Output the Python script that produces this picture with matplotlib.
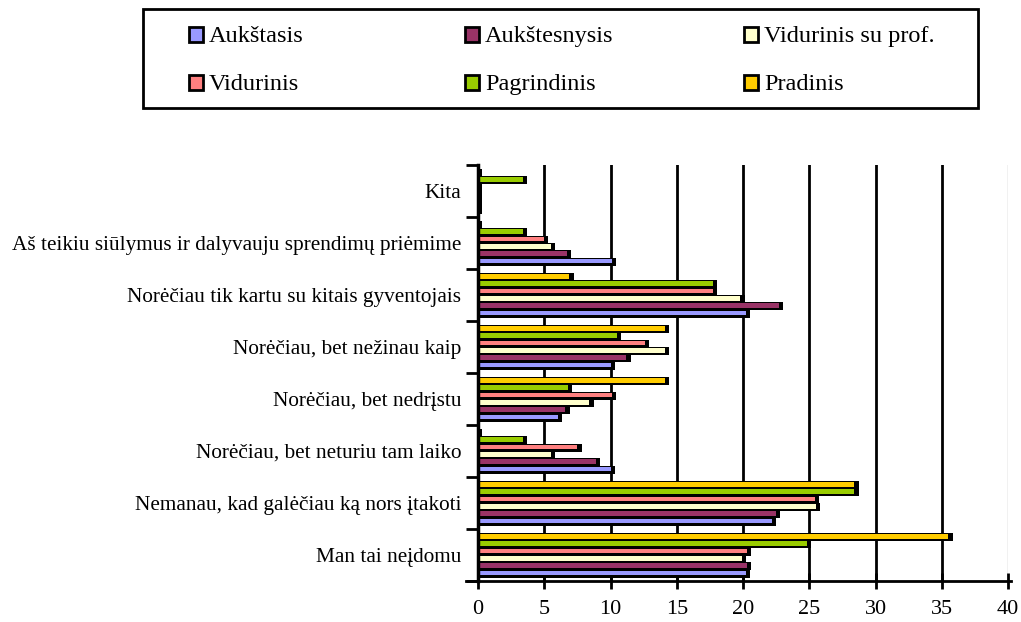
import matplotlib
matplotlib.use("Agg")
import matplotlib.pyplot as plt
from matplotlib.patches import Rectangle
import numpy as np

plt.rcParams['font.family'] = ['Liberation Serif', 'DejaVu Serif']

categories = [
    "Man tai neįdomu",
    "Nemanau, kad galėčiau ką nors įtakoti",
    "Norėčiau, bet neturiu tam laiko",
    "Norėčiau, bet nedrįstu",
    "Norėčiau, bet nežinau kaip",
    "Norėčiau tik kartu su kitais gyventojais",
    "Aš teikiu siūlymus ir dalyvauju sprendimų priėmime",
    "Kita",
]
series_names = ["Aukštasis", "Aukštesnysis", "Vidurinis su prof.",
                "Vidurinis", "Pagrindinis", "Pradinis"]
aukstasis     = [20.2, 22.2, 10.0, 6.0, 10.0, 20.2, 10.1, 0.0]
aukstesnysis  = [20.3, 22.5, 8.9, 6.6, 11.2, 22.7, 6.7, 0.0]
vid_su_prof   = [19.9, 25.5, 5.5, 8.4, 14.1, 19.8, 5.5, 0.0]
vidurinis     = [20.3, 25.4, 7.5, 10.1, 12.6, 17.7, 5.0, 0.0]
pagrindinis   = [24.8, 28.4, 3.4, 6.8, 10.5, 17.7, 3.4, 3.4]
pradinis      = [35.5, 28.4, 0.0, 14.1, 14.1, 6.9, 0.0, 0.0]
series = [aukstasis, aukstesnysis, vid_su_prof, vidurinis, pagrindinis, pradinis]
colors = ["#9999FF", "#993366", "#FFFFCC", "#FF8080", "#99CC00", "#FFCC00"]
xticks = [0, 5, 10, 15, 20, 25, 30, 35, 40]

W, H = 1021, 622
fig = plt.figure(figsize=(W / 100, H / 100), dpi=100)
ax = fig.add_axes([478 / W, 1 - 581 / H, (1008 - 478) / W, (581 - 165) / H])

n = len(series)
slot = 44 / 52 / n
for i in range(len(categories)):
    base = i - 0.5 + 4 / 52
    for j, vals in enumerate(series):
        v = vals[i]
        y0 = base + j * slot
        ax.barh(y0 + slot / 2 - 0.006, v + 0.32, height=slot + 0.012, left=0,
                color="black", zorder=3, linewidth=0)
        ax.barh(y0 + slot / 2 + 0.006, v, height=slot * 0.6, left=0,
                color=colors[j], zorder=4, linewidth=0)

ax.set_xlim(0, 40)
ax.set_ylim(-0.5, len(categories) - 0.5)

for xv in xticks[1:-1]:
    ax.axvline(xv, color="black", lw=2, zorder=1)
ax.axvline(40, color="#bbbbbb", lw=1, zorder=1)

ax.set_xticks(xticks)
ax.set_xticklabels([str(x) for x in xticks], fontsize=16)
ax.set_yticks(np.arange(len(categories)))
ax.set_yticklabels(categories, fontsize=15.3)
ax.set_yticks(np.arange(len(categories) + 1) - 0.5, minor=True)
ax.tick_params(axis="y", which="major", length=0, pad=12)
ax.tick_params(axis="y", which="minor", length=9, width=2, direction="out")
ax.tick_params(axis="x", which="major", length=12, width=2, direction="inout", pad=8)

for s in ["top", "right"]:
    ax.spines[s].set_visible(False)
ax.spines["left"].set_linewidth(2.5)
ax.spines["bottom"].set_linewidth(2)
ax.spines["bottom"].set_bounds(-0.9, 40.2)
ax.spines["left"].set_zorder(5)

# legend (3 evenly spaced columns, 2 rows)
col_x = [189, 465, 744]
row_y = [33.5, 81.5]
order = [[0, 3], [1, 4], [2, 5]]
for c, cx in enumerate(col_x):
    for r, ry in enumerate(row_y):
        k = order[c][r]
        fig.patches.append(Rectangle((cx / W, 1 - (ry + 8) / H), 14 / W, 15 / H,
                                     transform=fig.transFigure, facecolor=colors[k],
                                     edgecolor="black", linewidth=2))
        fig.text((cx + 20) / W, 1 - (ry + 8.3) / H, series_names[k],
                 fontsize=17.5, ha="left", va="baseline")
fig.patches.append(Rectangle((143 / W, 1 - 108 / H), (978 - 143) / W, (108 - 9) / H,
                             transform=fig.transFigure, fill=False,
                             edgecolor="black", linewidth=2))

fig.savefig("out.png", dpi=100)
